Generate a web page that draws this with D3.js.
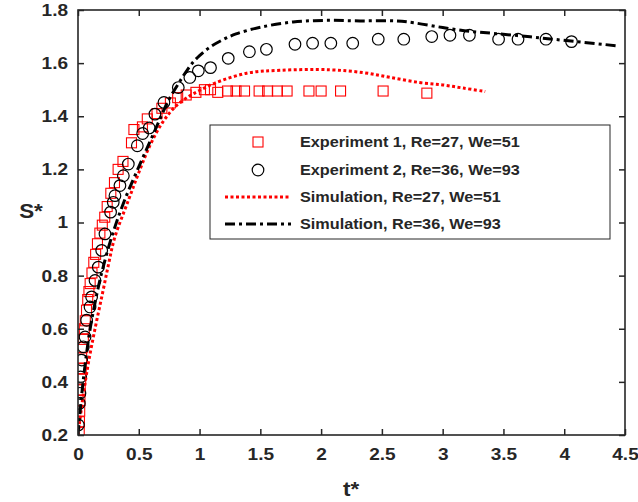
<!DOCTYPE html>
<html><head><meta charset="utf-8">
<script src="https://cdn.jsdelivr.net/npm/d3@7"></script>
<style>body{margin:0;background:#fff}svg{display:block}text{font-family:"Liberation Sans",Arial,sans-serif;font-weight:bold;fill:#262626}</style>
</head><body><svg id="c" width="638" height="502"></svg>
<script>
const exp1 = [[0.01,0.21],[0.012,0.25],[0.014,0.29],[0.016,0.33],[0.018,0.37],[0.022,0.41],[0.026,0.45],[0.03,0.49],[0.036,0.53],[0.044,0.56],[0.052,0.60],[0.06,0.63],[0.07,0.67],[0.08,0.71],[0.09,0.74],[0.10,0.77],[0.115,0.81],[0.13,0.85],[0.145,0.88],[0.16,0.92],[0.18,0.96],[0.20,0.99],[0.22,1.02],[0.24,1.06],[0.27,1.11],[0.30,1.15],[0.33,1.20],[0.37,1.23],[0.44,1.30],[0.46,1.35],[0.53,1.36],[0.57,1.39],[0.65,1.41],[0.69,1.43],[0.76,1.45],[0.82,1.47],[0.89,1.48],[0.97,1.49],[1.04,1.50],[1.09,1.50],[1.15,1.49],[1.23,1.495],[1.30,1.495],[1.37,1.495],[1.49,1.495],[1.56,1.495],[1.64,1.495],[1.72,1.495],[1.90,1.495],[2.00,1.495],[2.16,1.495],[2.51,1.495],[2.87,1.487]];
const exp2 = [[0.003,0.238],[0.011,0.319],[0.016,0.357],[0.022,0.419],[0.03,0.482],[0.044,0.532],[0.058,0.569],[0.071,0.632],[0.099,0.682],[0.112,0.72],[0.14,0.782],[0.167,0.832],[0.195,0.895],[0.222,0.957],[0.268,1.039],[0.29,1.076],[0.304,1.101],[0.345,1.139],[0.373,1.176],[0.414,1.22],[0.488,1.289],[0.532,1.335],[0.586,1.356],[0.633,1.408],[0.707,1.452],[0.825,1.508],[0.92,1.546],[0.99,1.571],[1.09,1.583],[1.236,1.618],[1.41,1.643],[1.55,1.652],[1.785,1.671],[1.93,1.675],[2.08,1.675],[2.26,1.675],[2.47,1.69],[2.68,1.69],[2.91,1.70],[3.06,1.705],[3.22,1.705],[3.46,1.69],[3.62,1.69],[3.85,1.69],[4.06,1.681]];
const sim1 = [[0,0.2],[0.04,0.34],[0.085,0.47],[0.14,0.6],[0.2,0.73],[0.25,0.84],[0.30,0.94],[0.414,1.083],[0.496,1.183],[0.592,1.29],[0.70,1.38],[0.81,1.44],[0.92,1.477],[1.0,1.497],[1.127,1.525],[1.387,1.562],[1.66,1.573],[2.07,1.575],[2.35,1.564],[2.57,1.546],[2.81,1.527],[3.0,1.518],[3.17,1.506],[3.35,1.493]];
const sim2 = [[0,0.2],[0.03,0.35],[0.06,0.47],[0.1,0.6],[0.15,0.72],[0.2,0.82],[0.28,0.95],[0.38,1.08],[0.51,1.22],[0.62,1.333],[0.743,1.458],[0.84,1.533],[0.9,1.575],[0.95,1.605],[1.0,1.628],[1.085,1.66],[1.2,1.69],[1.3,1.71],[1.5,1.735],[1.77,1.755],[2.045,1.761],[2.32,1.759],[2.62,1.759],[2.76,1.752],[3.0,1.734],[3.22,1.72],[3.44,1.711],[3.72,1.699],[3.99,1.686],[4.44,1.665]];
const xTicks = [0,0.5,1,1.5,2,2.5,3,3.5,4,4.5];
const yTicks = [0.2,0.4,0.6,0.8,1,1.2,1.4,1.6,1.8];
const legendLabels = ["Experiment 1, Re=27, We=51","Experiment 2, Re=36, We=93","Simulation, Re=27, We=51","Simulation, Re=36, We=93"];

const svg = d3.select("#c");
const L=78,R=625,T=10,B=435;
const x = d3.scaleLinear().domain([0,4.5]).range([L,R]);
const y = d3.scaleLinear().domain([0.2,1.8]).range([B,T]);
const axc="#262626";
const SX=1.12;

svg.append("clipPath").attr("id","cp").append("rect").attr("x",L).attr("y",T).attr("width",R-L).attr("height",B-T);

const g = svg.append("g").attr("clip-path","url(#cp)");
g.selectAll("rect.sq").data(exp1).join("rect").attr("class","sq")
 .attr("x",d=>x(d[0])-5).attr("y",d=>y(d[1])-5).attr("width",10).attr("height",10)
 .attr("fill","none").attr("stroke","#ff0000").attr("stroke-width",1.1);
g.selectAll("circle").data(exp2).join("circle")
 .attr("cx",d=>x(d[0])).attr("cy",d=>y(d[1])).attr("r",5.8)
 .attr("fill","none").attr("stroke","#000").attr("stroke-width",1.2);
const line = d3.line().x(d=>x(d[0])).y(d=>y(d[1])).curve(d3.curveCatmullRom.alpha(0.5));
g.append("path").attr("d",line(sim1)).attr("fill","none").attr("stroke","#ff0000").attr("stroke-width",3).attr("stroke-dasharray","3,2.5");
g.append("path").attr("d",line(sim2)).attr("fill","none").attr("stroke","#000").attr("stroke-width",3).attr("stroke-dasharray","10,4,3,4");

const ax = svg.append("g");
ax.append("g").attr("transform",`translate(0,${B})`).call(d3.axisBottom(x).tickValues(xTicks).tickSize(-6).tickPadding(13).tickFormat(d3.format("")));
ax.append("g").attr("transform",`translate(0,${T})`).call(d3.axisTop(x).tickValues(xTicks).tickSize(-6).tickFormat(""));
ax.append("g").attr("transform",`translate(${L},0)`).call(d3.axisLeft(y).tickValues(yTicks).tickSize(-6).tickPadding(10).tickFormat(d3.format("")));
ax.append("g").attr("transform",`translate(${R},0)`).call(d3.axisRight(y).tickValues(yTicks).tickSize(-6).tickFormat(""));
ax.selectAll(".domain").remove();
ax.selectAll(".tick line").attr("stroke",axc).attr("stroke-width",1.5);
ax.selectAll(".tick text").attr("font-size",17).attr("font-family","Liberation Sans, Arial, sans-serif").attr("font-weight","bold").attr("fill",axc)
  .attr("x",function(){return (+d3.select(this).attr("x")||0)/SX;}).attr("transform",`scale(${SX},1)`);
ax.append("rect").attr("x",L).attr("y",T).attr("width",R-L).attr("height",B-T).attr("fill","none").attr("stroke",axc).attr("stroke-width",1.6);

svg.append("text").attr("transform",`translate(351,496) scale(${SX},1)`).attr("text-anchor","middle").attr("font-size",20).text("t*");
svg.append("text").attr("transform",`translate(31,218) scale(${SX},1)`).attr("text-anchor","middle").attr("font-size",20).text("S*");

const lg = svg.append("g");
lg.append("rect").attr("x",210).attr("y",125).attr("width",400).attr("height",114).attr("fill","#fff").attr("stroke","#262626").attr("stroke-width",1);
const rowY=[142,170,197,224];
lg.append("rect").attr("x",253).attr("y",rowY[0]-5).attr("width",10).attr("height",10).attr("fill","none").attr("stroke","#ff0000").attr("stroke-width",1.1);
lg.append("circle").attr("cx",258).attr("cy",rowY[1]).attr("r",5.8).attr("fill","none").attr("stroke","#000").attr("stroke-width",1.2);
lg.append("line").attr("x1",225).attr("x2",291).attr("y1",rowY[2]).attr("y2",rowY[2]).attr("stroke","#ff0000").attr("stroke-width",3).attr("stroke-dasharray","3,2.5");
lg.append("line").attr("x1",225).attr("x2",291).attr("y1",rowY[3]).attr("y2",rowY[3]).attr("stroke","#000").attr("stroke-width",3).attr("stroke-dasharray","10,4,3,4");
lg.selectAll("text.lt").data(legendLabels).join("text").attr("class","lt")
 .attr("transform",(d,i)=>`translate(300,${rowY[i]+5}) scale(${SX},1)`).attr("font-size",14.5).attr("fill","#000").text(d=>d);
</script></body></html>
